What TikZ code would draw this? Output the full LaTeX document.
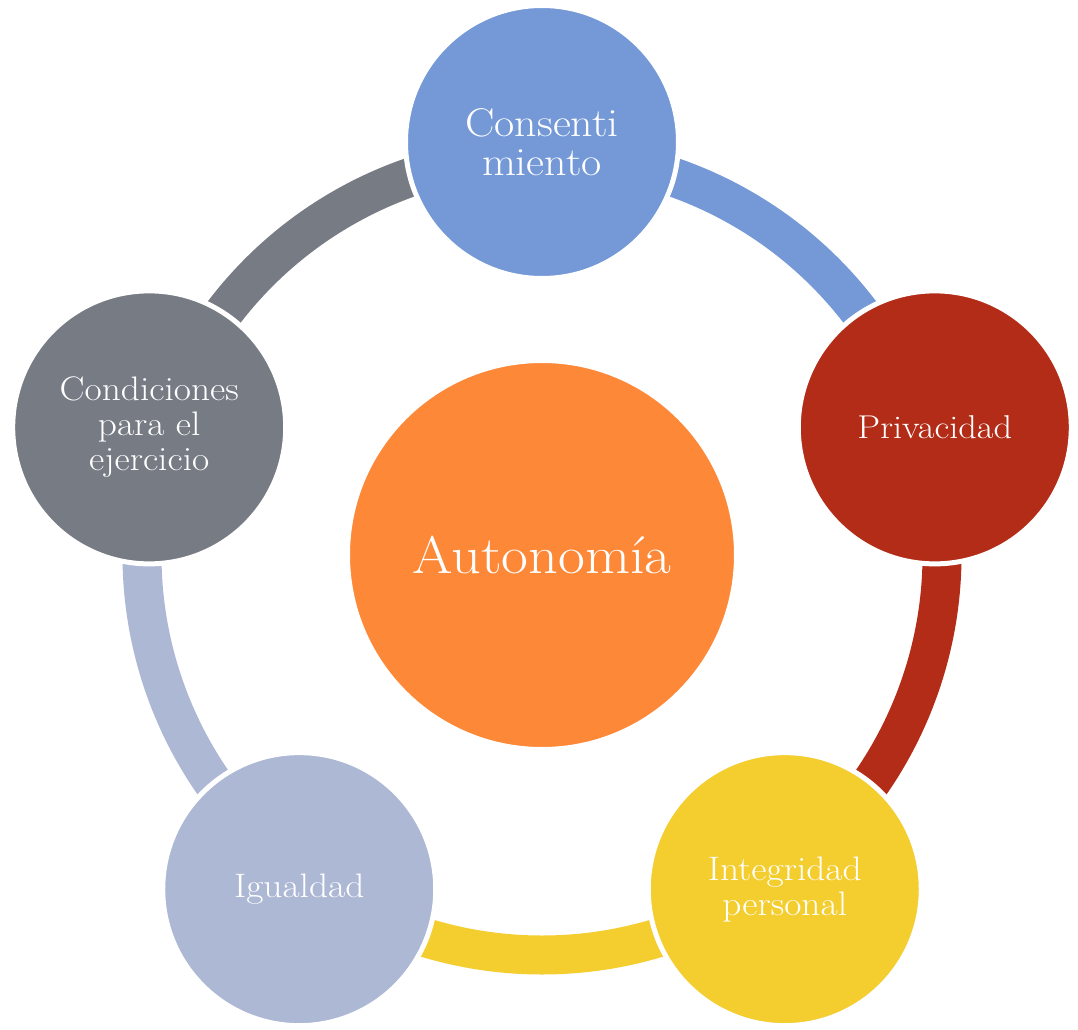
\documentclass[tikz,border=0pt]{standalone}
\usepackage{fontspec}
\setmainfont{Latin Modern Roman}[FakeStretch=1.1]
\definecolor{cblue}{RGB}{117,153,215}
\definecolor{cred}{RGB}{178,44,24}
\definecolor{cyellow}{RGB}{244,205,46}
\definecolor{clav}{RGB}{173,184,213}
\definecolor{cgray}{RGB}{119,123,132}
\definecolor{corange}{RGB}{253,136,55}
\tikzset{
  ringarc/.style={line width=39pt},
  satellite/.style={circle, minimum size=273pt, inner sep=0pt, draw=white, line width=5pt, text=white, align=center, font=\fontsize{34}{35}\selectfont},
  hub/.style={circle, minimum size=389pt, inner sep=0pt, draw=white, line width=5pt, fill=corange, text=white, font=\fontsize{53}{60}\selectfont}
}
\begin{document}
\begin{tikzpicture}[x=1pt,y=1pt]
\useasboundingbox (-542,-474) rectangle (536,555);
% ring segments
\draw[ringarc, cblue]   (90:400)  arc[start angle=90,  end angle=18,   radius=400];
\draw[ringarc, cred]    (18:400)  arc[start angle=18,  end angle=-54,  radius=400];
\draw[ringarc, cyellow] (-54:400) arc[start angle=-54, end angle=-126, radius=400];
\draw[ringarc, clav]    (-126:400) arc[start angle=-126, end angle=-198, radius=400];
\draw[ringarc, cgray]   (162:400) arc[start angle=162, end angle=90,  radius=400];
% circles
\node[hub] (c) at (0,0) {Autonomía};
\node[satellite, fill=cblue, font=\fontsize{40}{39}\selectfont] (n1) at (90:413) {Consenti\\miento};
\node[satellite, fill=cred, font=\fontsize{33}{35}\selectfont] (n2) at (18:413) {Privacidad};
\node[satellite, fill=cyellow] (n3) at (-54:413) {Integridad\\personal};
\node[satellite, fill=clav] (n4) at (-126:413) {Igualdad};
\node[satellite, fill=cgray] (n5) at (162:413) {Condiciones\\para el\\ejercicio};
\end{tikzpicture}
\end{document}
